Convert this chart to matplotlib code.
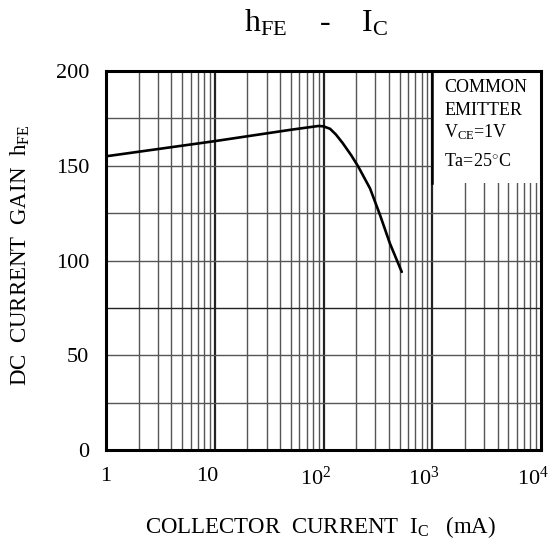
import numpy as np
import matplotlib
matplotlib.use("Agg")
import matplotlib.pyplot as plt
import matplotlib.transforms as mtransforms
from matplotlib.patches import Rectangle

plt.rcParams['font.family'] = ['Liberation Serif', 'DejaVu Serif']
plt.rcParams['mathtext.fontset'] = 'custom'
plt.rcParams['mathtext.rm'] = 'Liberation Serif'
plt.rcParams['mathtext.it'] = 'Liberation Serif:italic'
plt.rcParams['mathtext.bf'] = 'Liberation Serif:bold'

# curve
ic_ma = [1, 10, 50, 90, 100, 115, 130, 150, 180, 209, 268, 331, 408, 524]
hfe = [155, 163, 169, 171, 170.8, 169.5, 166.5, 162, 155.5, 149.5, 138, 124, 109, 94]

x_ticks = [1, 10, 100, 1000, 10000]
x_tick_labels = ['1', '10', '$\\mathregular{10^2}$', '$\\mathregular{10^3}$', '$\\mathregular{10^4}$']
y_ticks = [0, 50, 100, 150, 200]
y_grid = [25, 50, 75, 100, 125, 150, 175]
note_lines = ['COMMON', 'EMITTER', 'V$\\mathregular{_{CE}}$=1V', 'Ta=25$^{\\circ}$C']

fig = plt.figure(figsize=(5.53, 5.48), dpi=100)
ax = fig.add_axes([0.1917, 0.1788, 0.7866, 0.6916])

ax.set_xscale('log')
ax.set_xlim(1, 10000)
ax.set_ylim(0, 200)

# grid: every 1..9 in each decade, decades a bit heavier
for dec in [1, 10, 100, 1000]:
    for m in range(2, 10):
        ax.axvline(dec * m, color='#555555', lw=1.0, zorder=1)
    if dec > 1:
        ax.axvline(dec, color='#222222', lw=1.6, zorder=1)
for yv in y_grid:
    c = '#222222' if yv == 75 else '#555555'
    ax.axhline(yv, color=c, lw=1.0, zorder=1)

# blank box for the conditions note
ax.add_patch(Rectangle((1000, 141), 9000, 59, facecolor='white', edgecolor='none', zorder=2))
ax.axvline(1000, ymin=141 / 200, ymax=1, color='black', lw=1.8, zorder=3)

ax.plot(ic_ma, hfe, color='black', lw=1.9, zorder=4, solid_capstyle='round',
        solid_joinstyle='round')

note_y = [191.5, 179, 167.5, 152]
for txt, yy in zip(note_lines, note_y):
    ax.text(1290, yy, txt, fontsize=13, va='center', ha='left', zorder=5)

ax.set_xticks(x_ticks)
ax.set_xticklabels(x_tick_labels, fontsize=16)
ax.set_yticks(y_ticks)
ax.set_yticklabels([str(v) for v in y_ticks], fontsize=16)
ax.xaxis.set_minor_locator(matplotlib.ticker.NullLocator())
ax.tick_params(axis='both', length=0)
ax.tick_params(axis='x', pad=12)
ax.tick_params(axis='y', pad=12)

off = mtransforms.ScaledTranslation(-8 / 100, 0, fig.dpi_scale_trans)
for lab in ax.get_xticklabels()[1:]:
    lab.set_transform(lab.get_transform() + off)

for sp in ax.spines.values():
    sp.set_linewidth(2.2)
    sp.set_zorder(6)

fig.text(0.572, 0.958, 'h$\\mathregular{_{FE}}$    -    I$\\mathregular{_{C}}$', fontsize=23,
         ha='center', va='center')
fig.text(0.58, 0.038, 'COLLECTOR  CURRENT  I$\\mathregular{_{C}}$   (mA)', fontsize=16.5,
         ha='center', va='center')
fig.text(0.037, 0.535, 'DC  CURRENT  GAIN  h$\\mathregular{_{FE}}$', fontsize=16.5,
         ha='center', va='center', rotation=90)

fig.savefig('out.png', dpi=100)
